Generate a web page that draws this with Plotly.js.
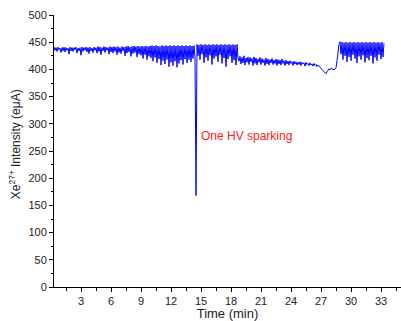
<!DOCTYPE html>
<html>
<head>
<meta charset="utf-8">
<script src="https://cdn.plot.ly/plotly-3.0.1.min.js"></script>
<style>html,body{margin:0;padding:0;background:#fff;}#chart{width:401px;height:321px;}</style>
</head>
<body>
<div id="chart"></div>
<script>
// Readings every 0.1 min starting at 0.3 min
// (values alternate between upper and lower edges of the noisy band).
const startTime = 0.3;
const sampleStep = 0.1;
const intensity = [
  // 0.3 - 14.4 min
  441,435,440,433,441,436,439,431,440,434,
  441,432,440,435,439,428,441,434,440,433,
  440,436,441,430,439,434,440,426,441,433,
  440,435,441,432,440,429,441,434,439,431,
  441,435,440,430,442,433,441,427,440,434,
  442,431,441,435,440,428,442,432,441,430,
  442,433,441,427,442,431,440,429,442,434,
  441,425,442,430,443,432,441,424,442,429,
  443,431,442,423,443,428,442,426,443,420,
  442,427,443,418,442,424,443,421,444,415,
  443,422,444,412,443,419,442,408,444,416,
  443,410,444,418,443,405,444,413,443,407,
  444,415,443,404,444,411,443,417,444,409,
  443,419,444,412,443,418,444,414,443,420,
  444,421,
  // 14.5 min: one HV spark
  168,
  // 14.6 - 18.7 min
  446,425,445,418,446,428,445,412,446,422,
  445,416,446,426,445,409,446,420,445,424,
  446,414,445,427,446,411,445,421,446,405,
  445,419,446,424,445,412,446,417,445,408,
  446,421,
  // 18.8 - 28.8 min
  415,424,410,422,412,425,408,421,413,423,
  409,422,414,420,407,423,411,421,408,419,
  413,422,409,420,412,418,407,421,410,419,
  408,418,412,420,409,417,411,419,407,418,
  410,417,408,419,411,416,407,417,410,415,
  408,416,411,414,407,415,410,414,408,413,
  409,414,407,413,410,412,406,413,409,411,
  407,412,408,410,406,411,407,409,405,408,
  406,404,403,401,399,397,394,392,396,399,
  401,399,402,400,401,399,402,403,416,432,
  446,
  // 28.9 - 33.3 min
  451,428,450,418,449,425,450,414,449,423,
  450,416,449,427,450,420,449,412,450,424,
  449,418,450,426,449,413,450,421,449,417,
  450,425,449,411,450,422,449,416,450,427,
  449,419,450,423,448
];
const timeMin = intensity.map((_, i) => +(startTime + i * sampleStep).toFixed(2));

const annotationText = "One HV sparking";
const annotationX = 14.8;
const annotationY = 277;
const yTitle = 'Xe<sup>27+</sup> Intensity (eμA)';
const xTitle = 'Time (min)';

const FONT = "Arial, 'Liberation Sans', sans-serif";

const trace = {
  x: timeMin,
  y: intensity,
  type: 'scatter',
  mode: 'lines',
  line: {color: '#0000ff', width: 1},
  hoverinfo: 'skip'
};

const layout = {
  width: 401,
  height: 321,
  margin: {l: 54, r: 0, t: 15, b: 34, pad: 0},
  paper_bgcolor: '#ffffff',
  plot_bgcolor: '#ffffff',
  showlegend: false,
  font: {family: FONT, size: 11, color: '#222'},
  xaxis: {
    range: [0.3, 35.0],
    tick0: 0, dtick: 3,
    ticks: 'outside', ticklen: 4, tickwidth: 1, tickcolor: '#000',
    minor: {dtick: 1.5, tick0: 0, ticks: 'outside', ticklen: 3, tickwidth: 1, tickcolor: '#000', showgrid: false},
    showline: true, linecolor: '#000', linewidth: 1,
    showgrid: false, zeroline: false,
    tickfont: {family: FONT, size: 11, color: '#222'},
    title: {text: xTitle, font: {family: FONT, size: 13, color: '#222'}, standoff: 4}
  },
  yaxis: {
    range: [0, 500],
    tick0: 0, dtick: 50,
    ticks: 'outside', ticklen: 4, tickwidth: 1, tickcolor: '#000',
    minor: {dtick: 25, tick0: 0, ticks: 'outside', ticklen: 2, tickwidth: 1, tickcolor: '#000', showgrid: false},
    showline: true, linecolor: '#000', linewidth: 1,
    showgrid: false, zeroline: false,
    tickfont: {family: FONT, size: 11, color: '#222'}
  },
  annotations: [{
    x: annotationX, y: annotationY, xref: 'x', yref: 'y',
    text: annotationText, showarrow: false,
    xanchor: 'left', yanchor: 'middle',
    font: {family: FONT, size: 12, color: '#ff2020'}
  }, {
    xref: 'paper', yref: 'paper',
    x: -39 / 347, y: 0.525,
    xanchor: 'center', yanchor: 'middle',
    textangle: -90, showarrow: false,
    text: yTitle,
    font: {family: FONT, size: 12, color: '#222'}
  }]
};

Plotly.newPlot('chart', [trace], layout, {staticPlot: true, displayModeBar: false});
</script>
</body>
</html>
